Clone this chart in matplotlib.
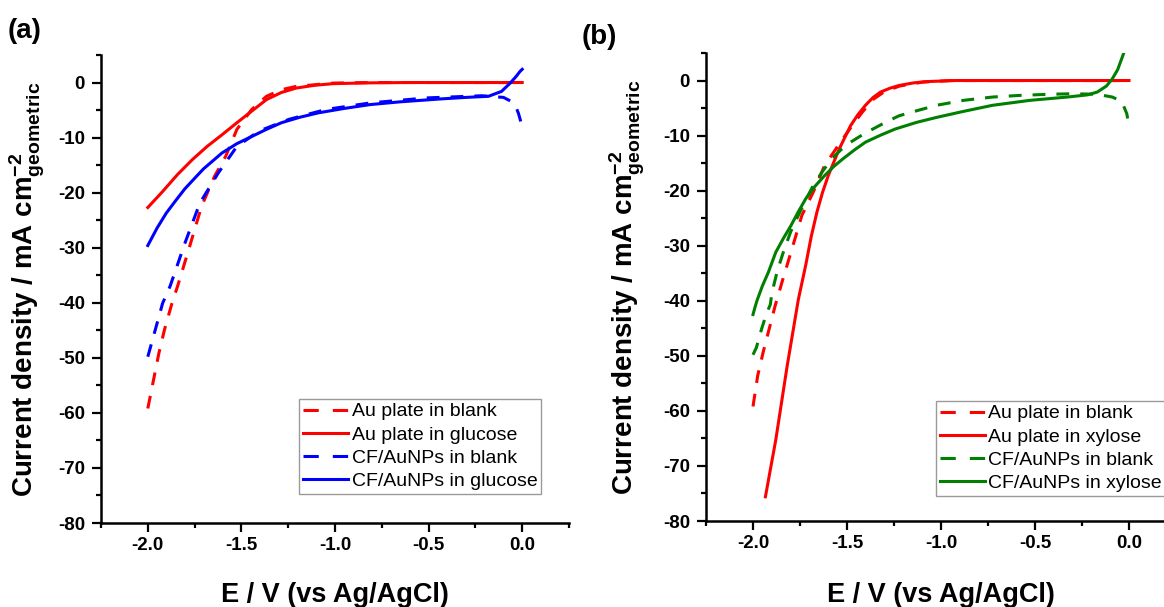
import matplotlib
matplotlib.use("Agg")
import matplotlib.pyplot as plt
from matplotlib.ticker import MultipleLocator

plt.rcParams['font.family'] = ['Liberation Sans', 'DejaVu Sans']
plt.rcParams['mathtext.fontset'] = 'custom'
plt.rcParams['mathtext.rm'] = 'Liberation Sans'
plt.rcParams['mathtext.bf'] = 'Liberation Sans:bold'
plt.rcParams['mathtext.it'] = 'Liberation Sans:italic'

# ---------------- data: panel (a) ----------------
a_au_blank_E = [-2.0, -1.941, -1.911, -1.871, -1.841, -1.782, -1.713, -1.643, -1.584, -1.524,
                -1.445, -1.366, -1.286, -1.207, -1.009, -0.811, 0.0]
a_au_blank_j = [-59.2, -49.2, -44.9, -40.1, -37.0, -30.4, -22.5, -17.0, -13.4, -8.5,
                -4.9, -2.5, -1.3, -0.7, -0.1, 0.0, 0.0]

a_au_glu_E = [-2.0, -1.921, -1.841, -1.762, -1.683, -1.604, -1.524, -1.445, -1.366, -1.286,
              -1.207, -1.108, -1.009, -0.811, -0.613, 0.0]
a_au_glu_j = [-22.7, -19.8, -16.7, -14.0, -11.6, -9.5, -7.3, -5.2, -3.1, -1.8,
              -1.0, -0.5, -0.2, -0.06, 0.0, 0.0]

a_cf_blank_E = [-2.0, -1.960, -1.921, -1.881, -1.802, -1.722, -1.623, -1.524, -1.405, -1.247,
                -1.049, -0.811, -0.513, -0.216, -0.10, -0.06, -0.035, -0.02, -0.01, 0.0]
a_cf_blank_j = [-49.8, -44.9, -40.1, -37.0, -29.2, -21.9, -16.4, -11.6, -8.8, -6.7,
                -4.9, -3.7, -2.8, -2.4, -2.7, -3.4, -4.3, -5.6, -6.8, -8.2]

a_cf_glu_E = [-2.0, -1.95, -1.901, -1.85, -1.802, -1.75, -1.703, -1.604, -1.524, -1.445,
              -1.366, -1.286, -1.187, -1.088, -0.95, -0.811, -0.65, -0.445, -0.30, -0.18,
              -0.11, -0.064, -0.035, -0.012, 0.0]
a_cf_glu_j = [-29.6, -26.4, -23.7, -21.4, -19.3, -17.4, -15.7, -12.8, -11.1, -9.8,
              -8.5, -7.3, -6.3, -5.5, -4.7, -4.0, -3.5, -3.0, -2.7, -2.5,
              -1.6, -0.1, 1.0, 2.0, 2.4]

# ---------------- data: panel (b) ----------------
b_au_blank_E = [-2.0, -1.975, -1.945, -1.91, -1.883, -1.843, -1.80, -1.740, -1.680, -1.620,
                -1.541, -1.481, -1.42, -1.36, -1.30, -1.22, -1.10, -0.95, 0.0]
b_au_blank_j = [-59.2, -53.6, -49.2, -44.6, -41.0, -36.3, -31.4, -24.5, -20.3, -15.5,
                -11.5, -8.6, -5.8, -3.4, -2.0, -1.0, -0.3, 0.0, 0.0]

b_au_xyl_E = [-1.934, -1.879, -1.819, -1.759, -1.720, -1.690, -1.660, -1.630, -1.600, -1.541,
              -1.481, -1.442, -1.402, -1.362, -1.322, -1.272, -1.223, -1.150, -1.083, -0.924, 0.0]
b_au_xyl_j = [-75.6, -65.3, -52.0, -39.8, -33.6, -28.3, -23.9, -20.3, -17.3, -12.4,
              -8.2, -6.2, -4.5, -3.1, -2.1, -1.4, -0.9, -0.45, -0.2, 0.0, 0.0]

b_cf_blank_E = [-2.0, -1.982, -1.955, -1.93, -1.908, -1.899, -1.870, -1.839, -1.800, -1.759,
                -1.720, -1.680, -1.630, -1.581, -1.530, -1.481, -1.420, -1.362, -1.290, -1.223,
                -1.120, -1.024, -0.880, -0.726, -0.580, -0.427, -0.300, -0.169, -0.089, -0.050,
                -0.030, -0.012, 0.0]
b_cf_blank_j = [-49.8, -48.5, -45.2, -42.5, -40.7, -38.5, -34.5, -31.2, -27.5, -24.5,
                -21.7, -19.1, -16.5, -14.2, -12.5, -11.2, -9.9, -8.8, -7.5, -6.4,
                -5.4, -4.5, -3.6, -3.0, -2.7, -2.5, -2.4, -2.5, -3.0, -3.6,
                -4.5, -6.0, -8.2]

b_cf_xyl_E = [-2.0, -1.988, -1.977, -1.95, -1.918, -1.879, -1.839, -1.799, -1.760, -1.720,
              -1.670, -1.620, -1.570, -1.521, -1.460, -1.402, -1.320, -1.243, -1.130, -1.024,
              -0.880, -0.726, -0.527, -0.328, -0.220, -0.169, -0.120, -0.089, -0.060, -0.030]
b_cf_xyl_j = [-42.5, -41.0, -39.8, -37.3, -34.8, -31.2, -28.7, -26.4, -23.9, -21.5,
              -19.2, -17.3, -15.6, -14.2, -12.6, -11.2, -9.9, -8.8, -7.6, -6.7,
              -5.6, -4.5, -3.6, -3.0, -2.6, -2.1, -1.0, 0.3, 2.0, 4.8]

labels_a = ["Au plate in blank", "Au plate in glucose", "CF/AuNPs in blank", "CF/AuNPs in glucose"]
labels_b = ["Au plate in blank", "Au plate in xylose", "CF/AuNPs in blank", "CF/AuNPs in xylose"]
panel_tags = ["(a)", "(b)"]
xticks = [-2.0, -1.5, -1.0, -0.5, 0.0]
yticks = [0, -10, -20, -30, -40, -50, -60, -70, -80]

RED = '#FF0000'
BLUE = '#0000FF'
GREEN = '#007F00'
LW = 2.2
DASH = (4.2, 3.6)
LEG_DASH = (5.0, 4.6)

W, H = 1164, 607
fig = plt.figure(figsize=(W / 100, H / 100), dpi=100)

def px_axes(l, r, t, b):
    return fig.add_axes([l / W, 1 - b / H, (r - l) / W, (b - t) / H])

axA = px_axes(101, 569, 55, 523)
axB = px_axes(706, 1176, 53, 521)

series_a = [(a_au_blank_E, a_au_blank_j, RED, True),
            (a_au_glu_E, a_au_glu_j, RED, False),
            (a_cf_blank_E, a_cf_blank_j, BLUE, True),
            (a_cf_glu_E, a_cf_glu_j, BLUE, False)]
series_b = [(b_au_blank_E, b_au_blank_j, RED, True),
            (b_au_xyl_E, b_au_xyl_j, RED, False),
            (b_cf_blank_E, b_cf_blank_j, GREEN, True),
            (b_cf_xyl_E, b_cf_xyl_j, GREEN, False)]

def style_axes(ax):
    ax.set_xlim(-2.25, 0.25)
    ax.set_ylim(-80, 5)
    ax.set_xticks(xticks)
    ax.set_xticklabels([f"{v:.1f}" for v in xticks])
    ax.set_yticks(yticks)
    ax.set_yticklabels([f"{v:d}" for v in yticks])
    ax.xaxis.set_minor_locator(MultipleLocator(0.25))
    ax.yaxis.set_minor_locator(MultipleLocator(5))
    for s in ['top', 'right']:
        ax.spines[s].set_visible(False)
    for s in ['left', 'bottom']:
        ax.spines[s].set_linewidth(1.8)
    ax.tick_params(which='major', direction='out', length=6.5, width=1.6,
                   labelsize=13.5)
    ax.tick_params(which='minor', direction='out', length=3.5, width=1.6)
    ax.tick_params(axis='x', which='major', pad=3.5)
    ax.tick_params(axis='y', which='major', pad=5)
    for lab in ax.get_xticklabels() + ax.get_yticklabels():
        lab.set_fontweight('bold')
    ax.set_xlabel("E / V (vs Ag/AgCl)", fontsize=19.5, fontweight='bold')
    ax.set_ylabel(r"Current density / mA cm$_{\mathbf{geometric}}^{\mathbf{-2}}$",
                  fontsize=20, fontweight='bold')

def draw(ax, series, labels, anchor):
    for (E, j, c, dashed), lab in zip(series, labels):
        if dashed:
            ax.plot(E, j, color=c, lw=LW, dashes=DASH, label=lab)
        else:
            ax.plot(E, j, color=c, lw=LW, label=lab)
    leg = ax.legend(loc='upper left', bbox_to_anchor=anchor, borderaxespad=0,
                    fontsize=14, frameon=True, fancybox=False, framealpha=1,
                    edgecolor='#9a9a9a', handlelength=2.3, handletextpad=0.2,
                    labelspacing=0.28, borderpad=0.2)
    leg.get_frame().set_linewidth(1.0)
    for (E, j, c, dashed), ln in zip(series, leg.get_lines()):
        if dashed:
            ln.set_dashes(LEG_DASH)
    return leg

style_axes(axA)
style_axes(axB)
draw(axA, series_a, labels_a, ((299 - 101) / 468, (523 - 399) / 468))
draw(axB, series_b, labels_b, ((936 - 706) / 470, (521 - 401) / 468))

axA.xaxis.set_label_coords(0.5, -(582 - 523) / 468)
axB.xaxis.set_label_coords(0.5, -(582 - 521) / 468)
axA.yaxis.set_label_coords((47.5 - 101) / 468, 0.5)
axB.yaxis.set_label_coords((647 - 706) / 470, 0.5)

fig.text(8 / W, 1 - 31 / H, panel_tags[0], fontsize=20, fontweight='bold', va='center', ha='left')
fig.text(582 / W, 1 - 36.5 / H, panel_tags[1], fontsize=20, fontweight='bold', va='center', ha='left')

fig.savefig("out.png", dpi=100)
